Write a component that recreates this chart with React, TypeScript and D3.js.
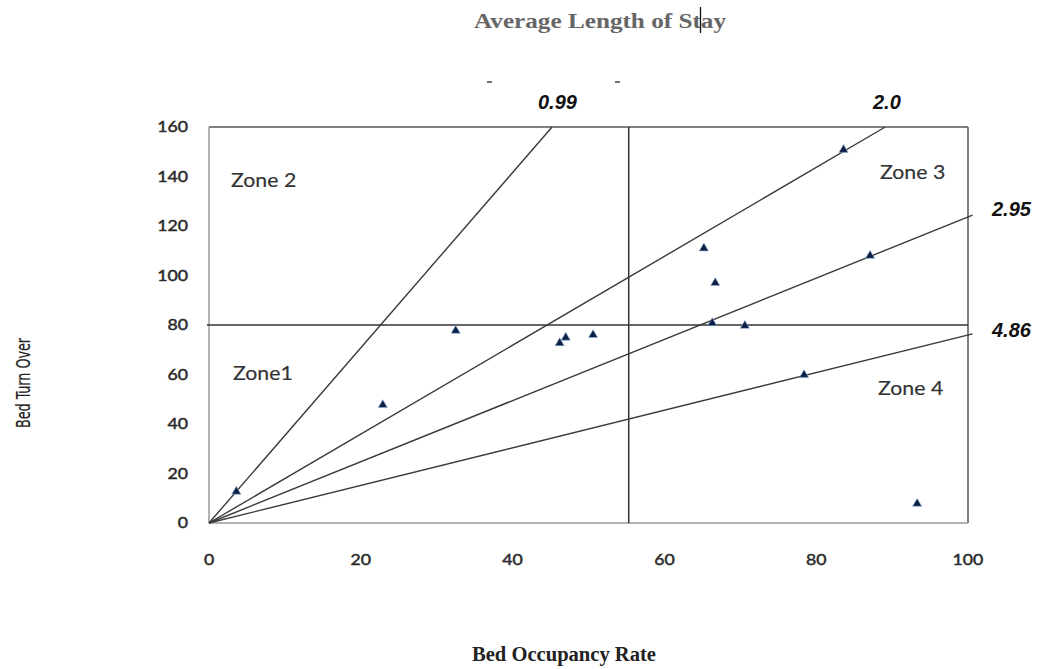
import React from 'react';
import * as d3 from 'd3';

// Bed occupancy rate (%) vs bed turn over, one point per unit
const bedOccupancy = [3.6, 22.9, 32.5, 46.2, 47.0, 50.6, 65.2, 66.7, 66.3, 70.6, 78.4, 83.6, 87.1, 93.3];
const bedTurnOver = [12.3, 47.3, 77.3, 72.3, 74.5, 75.6, 110.6, 96.6, 80.4, 79.3, 59.4, 150.4, 107.6, 7.4];

// average length of stay lines from the origin, with the end point
const alosLabels = ['0.99', '2.0', '2.95', '4.86'];
const alosEndX = [45.2, 89.1, 100.6, 100.6];
const alosEndY = [160, 160, 124.4, 76.4];

const xTicks = [0, 20, 40, 60, 80, 100];
const yTicks = [0, 20, 40, 60, 80, 100, 120, 140, 160];

const medianBor = 55.3;
const medianBto = 80;

const zones = ['Zone 2', 'Zone 3', 'Zone1', 'Zone 4'];

const W = 1037;
const H = 669;

const App: React.FC = () => {
  const x = d3.scaleLinear().domain([0, 100]).range([209, 968]);
  const y = d3.scaleLinear().domain([0, 160]).range([523, 127]);
  const tri = d3.symbol().type(d3.symbolTriangle).size(36)() || '';

  const pts = bedOccupancy.map((v, i) => ({ bor: v, bto: bedTurnOver[i] }));

  // label placements next to each alos line
  const alosLabelPos = [
    { x: 538, y: 109 },
    { x: 873, y: 109 },
    { x: 992, y: 216 },
    { x: 992, y: 337 },
  ];
  const zonePos = [
    { x: 231, y: 187 },
    { x: 880, y: 179 },
    { x: 233, y: 380 },
    { x: 878, y: 395 },
  ];

  return (
    <svg width={W} height={H} style={{ position: 'absolute', left: 0, top: 0, background: '#fff' }}>
      {/* title */}
      <text x={474} y={28} textLength={252} lengthAdjust="spacingAndGlyphs"
        fontFamily="Liberation Serif, serif" fontWeight="bold" fontSize={21} fill="#666">
        Average Length of Stay
      </text>
      <line x1={700.5} x2={700.5} y1={7} y2={33} stroke="#111" strokeWidth={1.3} />
      <line x1={487} x2={492} y1={82} y2={82} stroke="#444" strokeWidth={1.5} />
      <line x1={615} x2={620} y1={82} y2={82} stroke="#444" strokeWidth={1.5} />

      {/* plot box */}
      <line x1={x(0)} x2={x(100)} y1={y(160)} y2={y(160)} stroke="#555" strokeWidth={1.5} />
      <line x1={x(100)} x2={x(100)} y1={y(160)} y2={y(0)} stroke="#555" strokeWidth={1.5} />
      <line x1={x(0)} x2={x(0)} y1={y(160)} y2={y(0)} stroke="#999" strokeWidth={1.5} />
      <line x1={x(0)} x2={x(100)} y1={y(0)} y2={y(0)} stroke="#999" strokeWidth={1.5} />

      {/* median lines */}
      <line x1={x(0) - 2} x2={x(100)} y1={y(medianBto)} y2={y(medianBto)} stroke="#333" strokeWidth={1.5} />
      <line x1={x(medianBor)} x2={x(medianBor)} y1={y(160)} y2={y(0)} stroke="#333" strokeWidth={1.5} />

      {/* alos lines */}
      {alosLabels.map((l, i) => (
        <line key={l} x1={x(0)} y1={y(0)} x2={x(alosEndX[i])} y2={y(alosEndY[i])} stroke="#3a3a3a" strokeWidth={1.4} />
      ))}
      {alosLabels.map((l, i) => (
        <text key={'t' + l} x={alosLabelPos[i].x} y={alosLabelPos[i].y}
          fontFamily="Liberation Sans, Arial, sans-serif" fontWeight="bold" fontStyle="italic" fontSize={20} fill="#111">
          {l}
        </text>
      ))}

      {/* zones */}
      {zones.map((z, i) => (
        <text key={z} transform={`translate(${zonePos[i].x},${zonePos[i].y}) scale(1.12,1)`}
          fontFamily="Lato, sans-serif" fontSize={19} fill="#333" stroke="#333" strokeWidth={0.2}>
          {z}
        </text>
      ))}

      {/* ticks */}
      {yTicks.map(t => (
        <text key={'y' + t} transform={`translate(188,${y(t) + 5}) scale(1.18,1)`} textAnchor="end"
          fontFamily="Lato, sans-serif" fontSize={15} fill="#2a2a2a" stroke="#2a2a2a" strokeWidth={0.45}>
          {t}
        </text>
      ))}
      {xTicks.map(t => (
        <text key={'x' + t} transform={`translate(${x(t)},${565}) scale(1.18,1)`} textAnchor="middle"
          fontFamily="Lato, sans-serif" fontSize={15} fill="#2a2a2a" stroke="#2a2a2a" strokeWidth={0.45}>
          {t}
        </text>
      ))}

      {/* points */}
      {pts.map((p, i) => (
        <path key={i} d={tri} transform={`translate(${x(p.bor)},${y(p.bto) - 1})`}
          fill="#0d1f45" stroke="#8fb3d9" strokeWidth={0.6} />
      ))}

      {/* axis titles */}
      <text transform="translate(30,428) rotate(-90)" textLength={90} lengthAdjust="spacingAndGlyphs"
        fontFamily="Liberation Sans Narrow, DejaVu Sans Condensed, sans-serif" fontSize={19} fill="#222"
        stroke="#222" strokeWidth={0.2}>
        Bed Turn Over
      </text>
      <text x={472} y={661} textLength={184} lengthAdjust="spacingAndGlyphs"
        fontFamily="Liberation Serif, serif" fontWeight="bold" fontSize={20} fill="#222">
        Bed Occupancy Rate
      </text>
    </svg>
  );
};

export default App;
